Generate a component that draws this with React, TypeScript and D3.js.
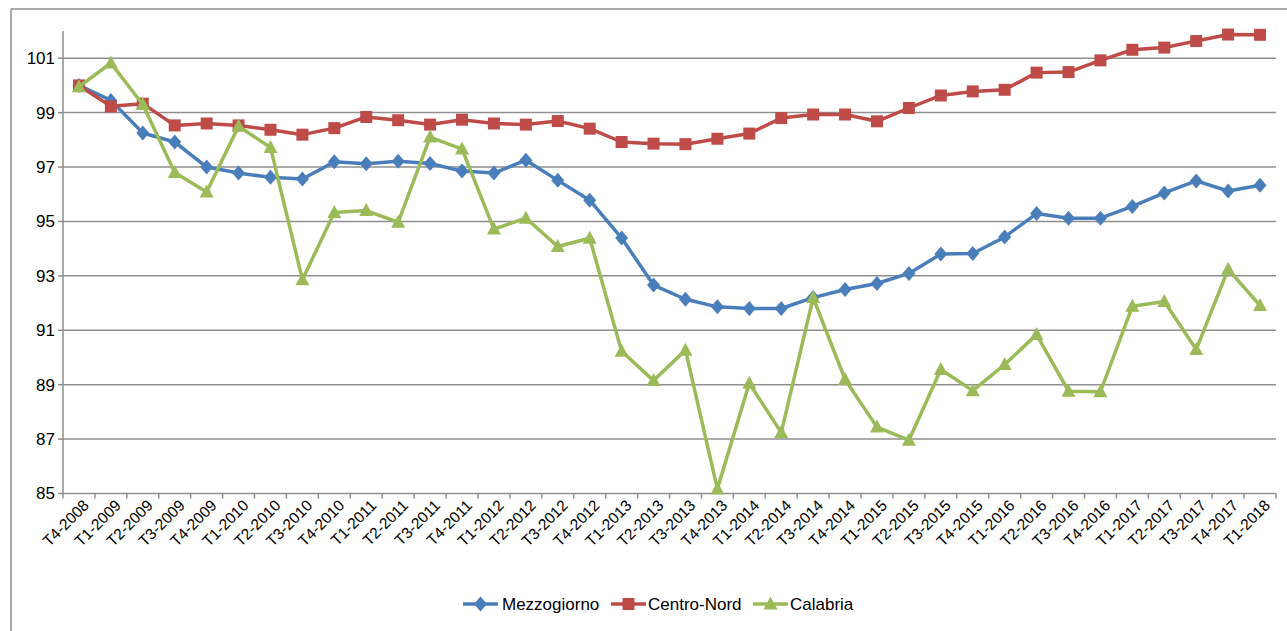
import React from "react";
import * as d3 from "d3";

const categories = [
  "T4-2008",
  "T1-2009", "T2-2009", "T3-2009", "T4-2009",
  "T1-2010", "T2-2010", "T3-2010", "T4-2010",
  "T1-2011", "T2-2011", "T3-2011", "T4-2011",
  "T1-2012", "T2-2012", "T3-2012", "T4-2012",
  "T1-2013", "T2-2013", "T3-2013", "T4-2013",
  "T1-2014", "T2-2014", "T3-2014", "T4-2014",
  "T1-2015", "T2-2015", "T3-2015", "T4-2015",
  "T1-2016", "T2-2016", "T3-2016", "T4-2016",
  "T1-2017", "T2-2017", "T3-2017", "T4-2017",
  "T1-2018",
];

const mezzogiorno = [
  100, 99.45, 98.25, 97.92, 97.0, 96.78, 96.62, 96.56, 97.19, 97.12, 97.21, 97.13, 96.85,
  96.78, 97.25, 96.51, 95.78, 94.39, 92.66, 92.14, 91.86, 91.8, 91.8, 92.2, 92.5,
  92.72, 93.09, 93.8, 93.82, 94.43, 95.29, 95.12, 95.12, 95.55, 96.05, 96.49, 96.12, 96.33,
];

const centroNord = [
  100, 99.23, 99.33, 98.53, 98.6, 98.53, 98.37, 98.19, 98.43, 98.84, 98.72, 98.56, 98.74,
  98.6, 98.56, 98.69, 98.41, 97.92, 97.86, 97.84, 98.04, 98.23, 98.8, 98.93, 98.93,
  98.68, 99.17, 99.63, 99.78, 99.84, 100.47, 100.49, 100.92, 101.31, 101.39, 101.63, 101.87, 101.86,
];

const calabria = [
  99.95, 100.82, 99.3, 96.8, 96.08, 98.5, 97.72, 92.86, 95.33, 95.4, 94.97, 98.1, 97.66,
  94.72, 95.12, 94.08, 94.38, 90.23, 89.15, 90.27, 85.17, 89.05, 87.24, 92.2, 89.19,
  87.44, 86.96, 89.56, 88.78, 89.74, 90.84, 88.76, 88.74, 91.88, 92.06, 90.29, 93.24, 91.91,
];

const yTicks = [85, 87, 89, 91, 93, 95, 97, 99, 101];

const seriesNames = ["Mezzogiorno", "Centro-Nord", "Calabria"];
const seriesColors = ["#4A7EBB", "#BE4B48", "#9BBB59"];
const seriesData = [mezzogiorno, centroNord, calabria];
const seriesMarkers = ["diamond", "square", "triangle"];

const W = 1287;
const H = 631;
const plotLeft = 63;
const plotRight = 1276;
const plotTop = 31;
const plotBottom = 493.5;
const FONT = "'Liberation Sans', Arial, sans-serif";

function markerPath(kind: string): string {
  if (kind === "diamond") return "M0,-7.5L6.5,0L0,7.5L-6.5,0Z";
  if (kind === "square") return "M-6,-6L6,-6L6,6L-6,6Z";
  return "M0,-7.5L7,5.5L-7,5.5Z";
}

export default function App() {
  const x = d3
    .scaleBand<string>()
    .domain(categories)
    .range([plotLeft, plotRight]);
  const y = d3.scaleLinear().domain([85, 102]).range([plotBottom, plotTop]);
  const cx = (c: string) => (x(c) as number) + x.bandwidth() / 2;

  const line = d3
    .line<number>()
    .x((_, i) => cx(categories[i]))
    .y((d) => y(d));

  const tickXs = categories.map((c) => x(c) as number).concat([plotRight]);

  const legendItems = [
    { lineX: 463, textX: 502 },
    { lineX: 611, textX: 648 },
    { lineX: 753, textX: 790 },
  ];
  const legendY = 604;

  return (
    <svg
      width={W}
      height={H}
      style={{ position: "absolute", left: 0, top: 0, background: "#fff" }}
      fontFamily={FONT}
    >
      <rect x={0} y={0} width={W} height={H} fill="#fff" />
      {/* outer chart border */}
      <line x1={11} y1={9} x2={W} y2={9} stroke="#8c8c8c" strokeWidth={1.5} />
      <line x1={11} y1={9} x2={11} y2={H} stroke="#8c8c8c" strokeWidth={1.5} />

      {/* gridlines */}
      {yTicks.slice(1).map((t) => (
        <line
          key={"g" + t}
          x1={plotLeft}
          x2={plotRight}
          y1={y(t)}
          y2={y(t)}
          stroke="#8f8f8f"
          strokeWidth={1.5}
        />
      ))}

      {/* y axis */}
      <line x1={plotLeft} x2={plotLeft} y1={plotTop} y2={plotBottom} stroke="#8f8f8f" strokeWidth={1.5} />
      {yTicks.map((t) => (
        <g key={"yt" + t}>
          <line x1={plotLeft - 5} x2={plotLeft} y1={y(t)} y2={y(t)} stroke="#8f8f8f" strokeWidth={1.5} />
          <text
            x={plotLeft - 8}
            y={y(t)}
            dy="0.35em"
            textAnchor="end"
            fontSize={17}
            fill="#000"
          >
            {t}
          </text>
        </g>
      ))}

      {/* x axis */}
      <line x1={plotLeft} x2={plotRight} y1={plotBottom} y2={plotBottom} stroke="#8f8f8f" strokeWidth={1.5} />
      {tickXs.map((tx, i) => (
        <line key={"xt" + i} x1={tx} x2={tx} y1={plotBottom} y2={plotBottom + 5} stroke="#8f8f8f" strokeWidth={1.5} />
      ))}
      {categories.map((c) => (
        <text
          key={"xl" + c}
          transform={`translate(${cx(c) + 11},${plotBottom + 13}) rotate(-45)`}
          textAnchor="end"
          fontSize={15.5}
          fill="#000"
        >
          {c}
        </text>
      ))}

      {/* series */}
      {seriesData.map((data, si) => (
        <g key={"s" + si}>
          <path
            d={line(data) as string}
            fill="none"
            stroke={seriesColors[si]}
            strokeWidth={3.5}
            strokeLinejoin="round"
          />
          {data.map((v, i) => (
            <path
              key={i}
              d={markerPath(seriesMarkers[si])}
              transform={`translate(${cx(categories[i])},${y(v)})`}
              fill={seriesColors[si]}
            />
          ))}
        </g>
      ))}

      {/* legend */}
      {seriesNames.map((name, si) => (
        <g key={"lg" + si}>
          <line
            x1={legendItems[si].lineX}
            x2={legendItems[si].lineX + 35}
            y1={legendY}
            y2={legendY}
            stroke={seriesColors[si]}
            strokeWidth={3.5}
          />
          <path
            d={markerPath(seriesMarkers[si])}
            transform={`translate(${legendItems[si].lineX + 17.5},${legendY})`}
            fill={seriesColors[si]}
          />
          <text x={legendItems[si].textX} y={legendY} dy="0.35em" fontSize={17} fill="#000">
            {name}
          </text>
        </g>
      ))}
    </svg>
  );
}
